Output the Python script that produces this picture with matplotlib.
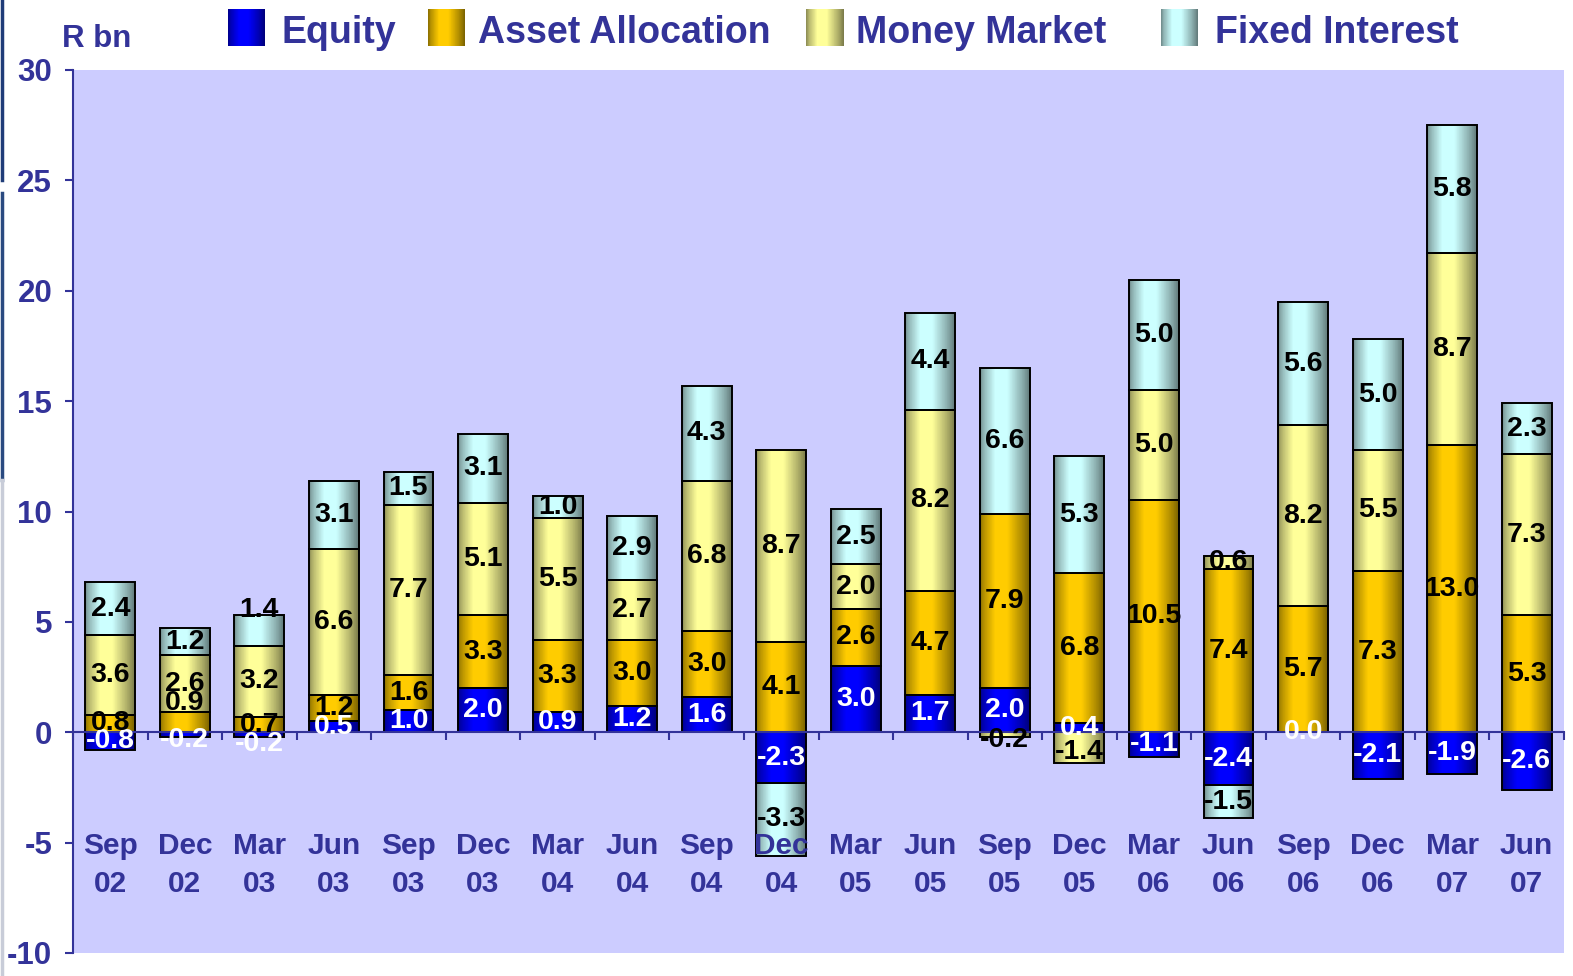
import numpy as np
import matplotlib
matplotlib.use("Agg")
import matplotlib.pyplot as plt
from matplotlib.lines import Line2D
from matplotlib.colors import to_rgb

plt.rcParams['font.family'] = ['Liberation Sans', 'DejaVu Sans']
plt.rcParams['font.weight'] = 'bold'

# ---------------- data ----------------
categories = ["Sep\n02", "Dec\n02", "Mar\n03", "Jun\n03", "Sep\n03", "Dec\n03", "Mar\n04",
              "Jun\n04", "Sep\n04", "Dec\n04", "Mar\n05", "Jun\n05", "Sep\n05", "Dec\n05",
              "Mar\n06", "Jun\n06", "Sep\n06", "Dec\n06", "Mar\n07", "Jun\n07"]
series_names = ["Equity", "Asset Allocation", "Money Market", "Fixed Interest"]
equity = [-0.8, -0.2, -0.2, 0.5, 1.0, 2.0, 0.9, 1.2, 1.6, -2.3,
          3.0, 1.7, 2.0, 0.4, -1.1, -2.4, 0.0, -2.1, -1.9, -2.6]
asset_allocation = [0.8, 0.9, 0.7, 1.2, 1.6, 3.3, 3.3, 3.0, 3.0, 4.1,
                    2.6, 4.7, 7.9, 6.8, 10.5, 7.4, 5.7, 7.3, 13.0, 5.3]
money_market = [3.6, 2.6, 3.2, 6.6, 7.7, 5.1, 5.5, 2.7, 6.8, 8.7,
                2.0, 8.2, -0.2, -1.4, 5.0, 0.6, 8.2, 5.5, 8.7, 7.3]
fixed_interest = [2.4, 1.2, 1.4, 3.1, 1.5, 3.1, 1.0, 2.9, 4.3, -3.3,
                  2.5, 4.4, 6.6, 5.3, 5.0, -1.5, 5.6, 5.0, 5.8, 2.3]
yticks = [-10, -5, 0, 5, 10, 15, 20, 25, 30]

# ---------------- style ----------------
W, H = 1573, 976
navy = "#333399"
light_colors = ["#0000FF", "#FFCC00", "#FFFF99", "#CCFFFF"]
label_colors = ["white", "black", "black", "black"]
bar_width = 0.67
# label nudges (series index, category index) -> offset in points (layout only)
label_nudge = {(1, 1): 14, (3, 2): 15, (0, 2): -7, (0, 1): -4, (2, 12): -4, (2, 13): -3}


def gradient(color, n=120):
    t = np.linspace(0, 1, n)
    s = np.interp(t, [0, 0.08, 0.3, 0.55, 0.85, 1.0], [0.55, 0.72, 1.0, 1.0, 0.68, 0.48])
    c = np.array(to_rgb(color))
    return (c[None, :] * s[:, None])[None, :, :]


fig = plt.figure(figsize=(W / 100, H / 100), dpi=100)
ax = fig.add_axes([73 / W, 1 - 953 / H, (1564 - 73) / W, (953 - 70) / H])
ax.set_facecolor("#CCCCFF")

data = [equity, asset_allocation, money_market, fixed_interest]
x = np.arange(len(categories))
pos_bottom = np.zeros(len(categories))
neg_bottom = np.zeros(len(categories))
for si, vals in enumerate(data):
    vals = np.array(vals, dtype=float)
    grad = gradient(light_colors[si])
    for i, v in enumerate(vals):
        if v >= 0:
            y0 = pos_bottom[i]
            pos_bottom[i] += v
        else:
            y0 = neg_bottom[i]
            neg_bottom[i] += v
        y1 = y0 + v
        x0, x1 = x[i] - bar_width / 2, x[i] + bar_width / 2
        if v != 0:
            ax.imshow(grad, extent=[x0, x1, min(y0, y1), max(y0, y1)], aspect='auto',
                      interpolation='nearest', zorder=2)
            ax.bar(x[i], v, bottom=y0, width=bar_width, facecolor='none',
                   edgecolor='black', linewidth=1.4, zorder=3)
        off = label_nudge.get((si, i), 0)
        ax.annotate(f"{v:.1f}", xy=(x[i], (y0 + y1) / 2), xytext=(0, off),
                    textcoords='offset points', ha='center', va='center',
                    fontsize=20.5, fontweight='bold', color=label_colors[si], zorder=6)

ax.set_xlim(-0.5, len(categories) - 0.5)
ax.set_ylim(-10, 30)

for side in ("top", "right"):
    ax.spines[side].set_visible(False)
ax.spines["bottom"].set_position(("data", 0))
for side in ("left", "bottom"):
    ax.spines[side].set_color(navy)
    ax.spines[side].set_linewidth(1.5)
    ax.spines[side].set_zorder(5)

ax.set_yticks(yticks)
ax.set_yticklabels([str(t) for t in yticks])
ax.tick_params(axis='y', direction='out', length=6, width=1.5, color=navy,
               labelcolor=navy, labelsize=22.5, pad=9)

ax.set_xticks(x)
ax.set_xticklabels(categories, linespacing=1.45)
ax.set_xticks(np.arange(-0.5, len(categories), 1), minor=True)
ax.tick_params(axis='x', which='major', length=0, labelcolor=navy, labelsize=21.5, pad=72)
ax.tick_params(axis='x', which='minor', direction='out', length=6, width=1.5, color=navy)
ax.xaxis.set_zorder(8)

# y unit label
fig.text(62 / W, 1 - 39 / H, "R bn", ha='left', va='center', fontsize=22.5,
         fontweight='bold', color=navy)

# legend (built from series names and colours)
swatch_x = [228, 428, 806, 1161]
text_x = [282, 478, 856, 1215]
for name, col, sx, tx in zip(series_names, light_colors, swatch_x, text_x):
    lax = fig.add_axes([sx / W, 1 - 46 / H, 37 / W, 37 / H])
    lax.imshow(gradient(col), aspect='auto', interpolation='nearest')
    lax.set_axis_off()
    fig.text(tx / W, 1 - 33 / H, name, ha='left', va='center', fontsize=27,
             fontweight='bold', color=navy)

# slide edge line at far left
fig.add_artist(Line2D([1.5 / W, 1.5 / W], [1, 1 - 180 / H], color="#1F3C78", lw=2.5))
fig.add_artist(Line2D([1.5 / W, 1.5 / W], [1 - 193 / H, 1 - 480 / H], color="#2A4A80", lw=2.5))
fig.add_artist(Line2D([1.5 / W, 1.5 / W], [1 - 480 / H, 0], color="#C8CCD8", lw=2.5))

fig.savefig("out.png", dpi=100)
